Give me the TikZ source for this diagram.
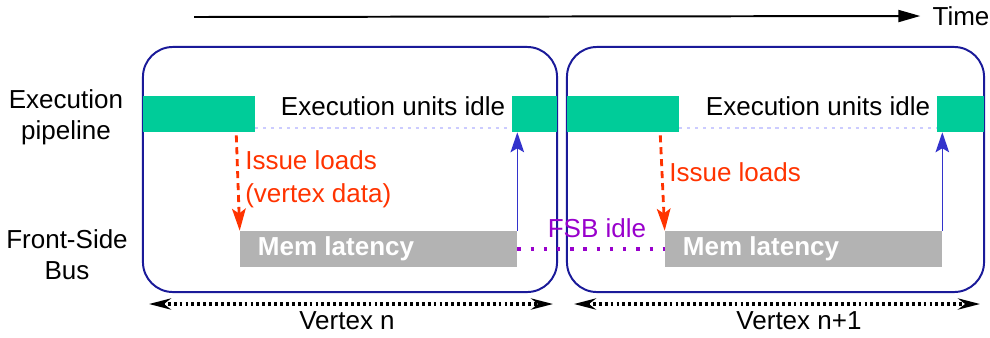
\documentclass[tikz,border=0pt]{standalone}
\usepackage{fontspec}
\setmainfont{Liberation Sans}
\usetikzlibrary{arrows.meta,calc}
\definecolor{EGreen}{HTML}{00CC99}
\definecolor{MGray}{HTML}{B3B3B3}
\definecolor{VBlue}{HTML}{1A1A99}
\definecolor{ABlue}{HTML}{3333CC}
\definecolor{LRed}{HTML}{FF3300}
\definecolor{FPurple}{HTML}{9900CC}
\definecolor{IBlue}{HTML}{CCCCFF}
\tikzset{
    vbox/.style = {draw=VBlue, line width=1.4pt, rounded corners=0.75cm,
        minimum height=6.125cm, inner sep=0pt},
    exec/.style = {fill=EGreen, minimum height=0.9cm, inner sep=0pt},
    mem/.style = {fill=MGray, minimum height=0.9cm, minimum width=6.925cm, inner sep=0pt},
    memtext/.style = {text=white, font=\fontsize{18.5}{22}\selectfont\bfseries, inner sep=0pt},
    lbl/.style = {font=\fontsize{18.5}{22}\selectfont, inner sep=0pt},
    load/.style = {draw=LRed, line width=2pt, dash pattern=on 5pt off 3.5pt,
        -{Stealth[length=0.55cm,width=0.34cm,inset=0.12cm]}},
    back/.style = {draw=ABlue, line width=1.1pt, -{Stealth[length=0.5cm,width=0.34cm,inset=0.1cm]}},
    idle/.style = {draw=IBlue, line width=1.6pt, dash pattern=on 2.2pt off 3.5pt},
    fsb/.style = {draw=FPurple, line width=2.2pt, dash pattern=on 2.4pt off 7pt},
    span/.style = {draw, line width=2.4pt, dash pattern=on 2pt off 2.2pt,
        {Stealth[length=0.55cm,width=0.28cm]}-{Stealth[length=0.55cm,width=0.28cm]}}
}

\begin{document}
\begin{tikzpicture}[x=0.025cm,y=-0.025cm]
    \useasboundingbox (0,0) rectangle (990,337);
    % time axis
    \coordinate (t0) at (194,17);
    \node[lbl] (time) at (961,16) {Time};
    \draw[line width=1.4pt,-{Triangle[length=0.55cm,width=0.3cm]}] (t0) -- ([xshift=-0.3cm]time.west);
    % one box per vertex
    \node[vbox, minimum width=10.35cm] (vert1) at (350,169.5) {};
    \node[vbox, minimum width=10.425cm] (vert2) at (775.5,169.5) {};
    % row labels
    \node[lbl, align=center] (pipe) at (66,117) {Execution\\pipeline};
    \node[lbl, align=center] (bus) at (67,255) {Front-Side\\Bus};
    % execution pipeline
    \node[exec, minimum width=2.8cm] (exA) at (199,114) {};
    \node[exec, minimum width=1.125cm] (exB) at (534.5,114) {};
    \node[exec, minimum width=2.8cm] (exC) at (623,114) {};
    \node[exec, minimum width=1.175cm] (exD) at (960.5,114) {};
    \draw[idle] ([yshift=0.1cm]exA.south east) -- ([yshift=0.1cm]exB.south west);
    \draw[idle] ([yshift=0.1cm]exC.south east) -- ([yshift=0.1cm]exD.south west);
    \node[lbl] (idle1) at (393,106) {Execution units idle};
    \node[lbl] (idle2) at (818,106) {Execution units idle};
    % front-side bus
    \node[mem] (mem1) at (378.5,249) {};
    \node[mem] (mem2) at (803.5,249) {};
    \node[memtext, anchor=west] (memt1) at ([xshift=0.45cm]mem1.west) {Mem latency};
    \node[memtext, anchor=west] (memt2) at ([xshift=0.45cm]mem2.west) {Mem latency};
    \draw[fsb] (mem1.east) -- (mem2.west);
    \node[lbl, text=FPurple] (fsbidle) at (597,228) {FSB idle};
    % loads and returns
    \draw[load] ([xshift=-0.475cm,yshift=-0.075cm]exA.south east) -- (mem1.north west);
    \draw[load] ([xshift=-0.475cm,yshift=-0.075cm]exC.south east) -- (mem2.north west);
    \node[lbl, text=LRed, align=left, anchor=west] (iss1) at (245,179) {Issue loads\\[1.5pt](vertex data)};
    \node[lbl, text=LRed, anchor=west] (iss2) at (669,172) {Issue loads};
    \draw[back] (mem1.north east) -- (mem1.north east |- exB.south);
    \draw[back] (mem2.north east) -- (mem2.north east |- exD.south);
    % vertex spans
    \coordinate (s1a) at (149,304);
    \coordinate (s1b) at (553,304);
    \coordinate (s2a) at (574,304);
    \coordinate (s2b) at (980,304);
    \draw[span] (s1a) -- (s1b);
    \draw[span] (s2a) -- (s2b);
    \node[lbl] (vn) at (347,321) {Vertex n};
    \node[lbl] (vn1) at (799,321) {Vertex n+1};
\end{tikzpicture}
\end{document}
